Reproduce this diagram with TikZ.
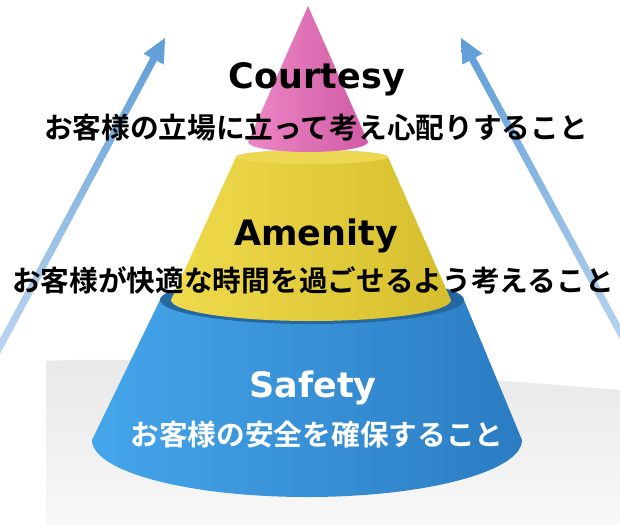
\documentclass[tikz,border=0pt]{standalone}
\usepackage{fontspec}
\usetikzlibrary{calc}
\newfontfamily\jpfont{Noto Sans CJK JP}[UprightFont={* Bold}]
\newfontfamily\headfont{DejaVu Sans}[UprightFont={* Bold}]

\definecolor{pinkL}{HTML}{EC86C6}
\definecolor{pinkR}{HTML}{D05CA4}
\definecolor{yelL}{HTML}{EFDA4C}
\definecolor{yelR}{HTML}{D6BF2E}
\definecolor{yelTop}{HTML}{ECD852}
\definecolor{bluL}{HTML}{45A6EB}
\definecolor{bluR}{HTML}{2B7CC2}
\definecolor{bluTop}{HTML}{1D4F84}
\definecolor{arrTop}{HTML}{5E9DD8}
\definecolor{arrBot}{HTML}{C4DBF1}
\definecolor{floorTop}{HTML}{E8E8E8}
\definecolor{floorBot}{HTML}{F8F8F8}

\tikzset{
  heading/.style={anchor=base, inner sep=0pt, font=\headfont\fontsize{35}{35}\selectfont},
  caption/.style={anchor=base, inner sep=0pt, font=\jpfont\fontsize{28.7}{28.7}\selectfont},
  uparrow/.style={top color=arrTop, bottom color=arrBot},
}

\begin{document}
\begin{tikzpicture}[x=1pt, y=-1pt]
  \useasboundingbox (0,0) rectangle (620,525);
  \fill[white] (0,0) rectangle (620,525);
  \clip (0,0) rectangle (620,525);

  % floor shadow
  \shade[top color=floorTop, bottom color=floorBot]
    (46,525) -- (46,361) .. controls (150,355) and (400,372) .. (620,390) -- (620,525) -- cycle;

  % rising arrows on both sides
  \coordinate (ltip) at (165,38);
  \coordinate (lbase) at (-18,380);
  \coordinate (rtip) at (461,38);
  \coordinate (rbase) at (646,380);
  \foreach \t/\b in {ltip/lbase, rtip/rbase}{
    \coordinate (h) at ($(\t)!24pt!(\b)$);
    \shade[uparrow]
      ($(\b)!3.6pt!90:(\t)$) -- ($(h)!3.6pt!-90:(\b)$) -- ($(h)!11.5pt!-90:(\b)$)
      -- (\t) -- ($(h)!11.5pt!90:(\b)$) -- ($(h)!3.6pt!90:(\b)$)
      -- ($(\b)!3.6pt!-90:(\t)$) -- cycle;
  }

  % bottom tier (blue)
  \shade[left color=bluL, right color=bluR]
    (160,300) -- (92,440)
    arc[start angle=180, end angle=360, x radius=215pt, y radius=57pt]
    -- (464,300)
    arc[start angle=0, end angle=180, x radius=152pt, y radius=24pt] -- cycle;
  \shade[inner color=bluTop, outer color=bluR!85!black] (312,300) ellipse [x radius=152pt, y radius=24pt];

  % middle tier (yellow)
  \shade[left color=yelL, right color=yelR]
    (236,157) -- (171,300)
    arc[start angle=180, end angle=360, x radius=140pt, y radius=21pt]
    -- (388,157)
    arc[start angle=0, end angle=180, x radius=76pt, y radius=7pt] -- cycle;
  \fill[yelTop] (312,157) ellipse [x radius=76pt, y radius=7pt];

  % top tier (pink)
  \coordinate (apex) at (308,6);
  \shade[left color=pinkL, right color=pinkR]
    (248,142) -- (apex) -- (368,142)
    arc[start angle=0, end angle=-180, x radius=60pt, y radius=10pt] -- cycle;

  % labels
  \node[heading] (courtesy) at (317,88) {Courtesy};
  \node[caption] (courtesyjp) at (316,138) {お客様の立場に立って考え心配りすること};
  \node[heading] (amenity) at (316,245) {Amenity};
  \node[caption] (amenityjp) at (313,291) {お客様が快適な時間を過ごせるよう考えること};
  \node[heading, text=white] (safety) at (313,397) {Safety};
  \node[caption, text=white] (safetyjp) at (317,445) {お客様の安全を確保すること};
\end{tikzpicture}
\end{document}
